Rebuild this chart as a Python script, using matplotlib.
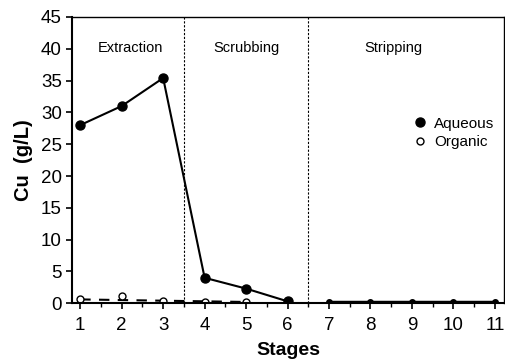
import matplotlib
matplotlib.use('Agg')
import matplotlib.pyplot as plt

# stages and Cu concentrations (g/L)
stages_ext_scr = [1, 2, 3, 4, 5, 6]
aqueous_ext_scr = [28.0, 31.0, 35.4, 4.0, 2.3, 0.3]
stages_strip = [7, 8, 9, 10, 11]
aqueous_strip = [0.15, 0.15, 0.15, 0.15, 0.15]
stages_org = [1, 2, 3, 4, 5]
organic = [0.6, 1.2, 0.4, 0.15, 0.15]
organic_trend = [0.6, 0.5, 0.4, 0.3, 0.2]
stage_bounds = [3.5, 6.5]
section_names = ['Extraction', 'Scrubbing', 'Stripping']
section_x = [2.2, 5.0, 8.55]

plt.rcParams['font.family'] = ['Liberation Sans', 'DejaVu Sans']

fig, ax = plt.subplots(figsize=(5.06, 3.61), dpi=100)
fig.subplots_adjust(left=0.143, right=0.996, top=0.953, bottom=0.16)

ax.plot(stages_ext_scr, aqueous_ext_scr, '-', color='black', lw=1.5)
ax.plot(stages_ext_scr, aqueous_ext_scr, 'o', color='black', ms=6.5, label='Aqueous')
ax.plot(stages_strip, aqueous_strip, '-o', color='black', lw=2.5, ms=4)
ax.plot(stages_org, organic_trend, '--', color='black', lw=1.5, dashes=(5, 4))
ax.plot(stages_org, organic, 'o', mfc='white', mec='black', mew=1.0, ms=5,
        label='Organic')

for b in stage_bounds:
    ax.axvline(b, color='black', ls=(0, (2, 1.5)), lw=0.8)
for name, xv in zip(section_names, section_x):
    ax.text(xv, 40.2, name, ha='center', va='center', fontsize=10.5)

ax.set_xlim(0.81, 11.22)
ax.set_ylim(0, 45)
ax.set_xticks(range(1, 12))
ax.set_xticks([v + 0.5 for v in range(1, 11)], minor=True)
ax.set_yticks(range(0, 46, 5))
ax.tick_params(axis='both', which='major', labelsize=13.5, direction='out',
               length=4, width=1.2)
ax.tick_params(axis='x', which='major', pad=6)
ax.tick_params(axis='x', which='minor', direction='out', length=3, width=1.0)
ax.spines['left'].set_linewidth(1.5)
ax.spines['bottom'].set_linewidth(1.5)
ax.spines['top'].set_linewidth(1.0)
ax.spines['right'].set_linewidth(1.0)

ax.set_xlabel('Stages', fontsize=14, fontweight='bold', labelpad=6)
ax.set_ylabel('Cu  (g/L)', fontsize=14.5, fontweight='bold', labelpad=6)

ax.legend(loc='upper left', bbox_to_anchor=(0.76, 0.7), frameon=False,
          fontsize=11, handlelength=0.8, handletextpad=0.5, labelspacing=0.3)

plt.savefig('out.png', dpi=100)
